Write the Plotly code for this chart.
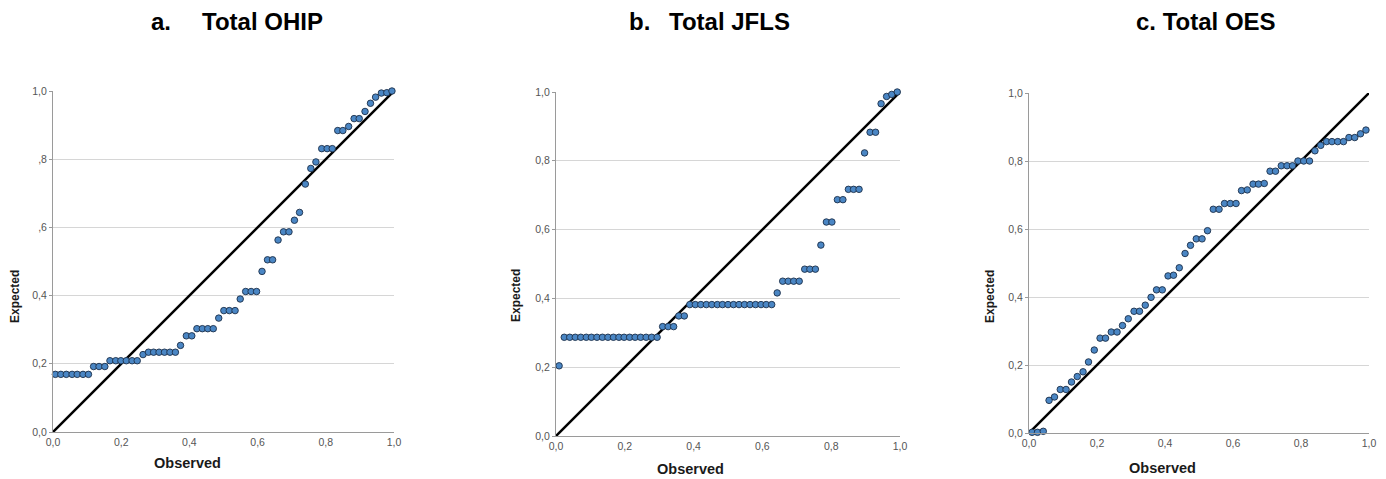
import plotly.graph_objects as go

# window is 1386x479; the page body adds an 8px margin, so the figure is
# made 8px smaller and all positions are given in window pixels minus 8.
WIN_W, WIN_H = 1386, 479
OFF = 8
W, H = WIN_W - OFF, WIN_H - OFF

# ---------------- data ----------------
ohip_obs = [0.007, 0.023, 0.039, 0.056, 0.071, 0.088, 0.104, 0.119, 0.135, 0.152,
            0.167, 0.184, 0.199, 0.215, 0.232, 0.247, 0.264, 0.280, 0.295, 0.311,
            0.327, 0.343, 0.359, 0.374, 0.391, 0.407, 0.422, 0.438, 0.454, 0.470,
            0.486, 0.501, 0.517, 0.534, 0.549, 0.565, 0.581, 0.597, 0.613, 0.629,
            0.644, 0.660, 0.676, 0.692, 0.708, 0.723, 0.740, 0.756, 0.771, 0.788,
            0.804, 0.819, 0.835, 0.850, 0.867, 0.883, 0.898, 0.915, 0.931, 0.946,
            0.963, 0.979, 0.994]
ohip_exp = [0.169, 0.169, 0.169, 0.169, 0.169, 0.169, 0.169, 0.192, 0.192, 0.192,
            0.209, 0.209, 0.209, 0.209, 0.209, 0.209, 0.227, 0.234, 0.234, 0.234,
            0.234, 0.234, 0.234, 0.254, 0.282, 0.282, 0.303, 0.303, 0.303, 0.303,
            0.334, 0.356, 0.356, 0.356, 0.390, 0.412, 0.412, 0.412, 0.471, 0.505,
            0.505, 0.563, 0.587, 0.587, 0.621, 0.644, 0.727, 0.773, 0.792, 0.831,
            0.831, 0.831, 0.884, 0.884, 0.896, 0.919, 0.919, 0.940, 0.964, 0.982,
            0.994, 0.995, 1.000]

jfls_obs = [0.009, 0.024, 0.040, 0.056, 0.072, 0.088, 0.103, 0.119, 0.135, 0.151,
            0.167, 0.183, 0.198, 0.214, 0.230, 0.246, 0.262, 0.278, 0.294, 0.310,
            0.326, 0.342, 0.357, 0.373, 0.389, 0.405, 0.421, 0.437, 0.453, 0.469,
            0.484, 0.500, 0.516, 0.532, 0.548, 0.564, 0.580, 0.596, 0.611, 0.627,
            0.643, 0.659, 0.675, 0.691, 0.707, 0.723, 0.738, 0.754, 0.770, 0.786,
            0.802, 0.818, 0.834, 0.850, 0.865, 0.881, 0.897, 0.913, 0.929, 0.945,
            0.961, 0.976, 0.992]
jfls_exp = [0.204, 0.287, 0.287, 0.287, 0.287, 0.287, 0.287, 0.287, 0.287, 0.287,
            0.287, 0.287, 0.287, 0.287, 0.287, 0.287, 0.287, 0.287, 0.287, 0.318,
            0.318, 0.318, 0.349, 0.349, 0.382, 0.382, 0.382, 0.382, 0.382, 0.382,
            0.382, 0.382, 0.382, 0.382, 0.382, 0.382, 0.382, 0.382, 0.382, 0.382,
            0.416, 0.450, 0.450, 0.450, 0.450, 0.485, 0.485, 0.485, 0.555, 0.622,
            0.622, 0.687, 0.687, 0.717, 0.717, 0.717, 0.823, 0.883, 0.883, 0.966,
            0.987, 0.993, 1.000]

oes_obs = [0.009, 0.025, 0.042, 0.059, 0.075, 0.092, 0.109, 0.125, 0.142, 0.159,
           0.175, 0.192, 0.209, 0.225, 0.242, 0.259, 0.275, 0.292, 0.309, 0.325,
           0.342, 0.359, 0.375, 0.392, 0.409, 0.425, 0.442, 0.459, 0.475, 0.492,
           0.509, 0.525, 0.542, 0.559, 0.575, 0.592, 0.609, 0.625, 0.642, 0.659,
           0.675, 0.692, 0.709, 0.725, 0.742, 0.759, 0.775, 0.791, 0.808, 0.825,
           0.841, 0.858, 0.875, 0.891, 0.908, 0.925, 0.941, 0.958, 0.975, 0.991]
oes_exp = [0.002, 0.002, 0.005, 0.096, 0.106, 0.128, 0.128, 0.150, 0.166, 0.180,
           0.209, 0.244, 0.279, 0.279, 0.297, 0.297, 0.316, 0.336, 0.358, 0.358,
           0.376, 0.399, 0.421, 0.421, 0.462, 0.464, 0.486, 0.528, 0.552, 0.571,
           0.571, 0.595, 0.658, 0.658, 0.675, 0.675, 0.675, 0.713, 0.715, 0.732,
           0.732, 0.734, 0.770, 0.770, 0.786, 0.786, 0.786, 0.800, 0.800, 0.800,
           0.830, 0.846, 0.857, 0.857, 0.857, 0.857, 0.869, 0.869, 0.880, 0.891]

diag = [0.0, 1.0]
tick_vals = [0.0, 0.2, 0.4, 0.6, 0.8, 1.0]
x_tick_text = ["0,0", "0,2", "0,4", "0,6", "0,8", "1,0"]
y_tick_text_a = ["0,0", "0,2", "0,4", ",6", ",8", "1,0"]
y_tick_text_bc = ["0,0", "0,2", "0,4", "0,6", "0,8", "1,0"]

panels = [
    dict(obs=ohip_obs, exp=ohip_exp, yt=y_tick_text_a,
         box=(53, 394, 91, 432)),
    dict(obs=jfls_obs, exp=jfls_exp, yt=y_tick_text_bc,
         box=(556, 900, 92, 436)),
    dict(obs=oes_obs, exp=oes_exp, yt=y_tick_text_bc,
         box=(1029, 1369, 93, 433)),
]

FONT = "Arial, Liberation Sans, Helvetica, sans-serif"
MARKER_FILL = "#4a86c4"
MARKER_EDGE = "#1c2f48"


def px(x):
    return (x - OFF) / W


def py(y):
    return 1 - (y - OFF) / H


fig = go.Figure()
layout = dict(
    width=W, height=H,
    margin=dict(l=0, r=0, t=0, b=0, autoexpand=False),
    paper_bgcolor="white", plot_bgcolor="white",
    showlegend=False,
    font=dict(family=FONT, color="#444444", size=10),
)

for i, p in enumerate(panels, start=1):
    sfx = "" if i == 1 else str(i)
    x0, x1, y0, y1 = p["box"]
    layout["xaxis" + sfx] = dict(
        domain=[px(x0), px(x1)], range=[0, 1], anchor="y" + sfx,
        automargin=False,
        tickvals=tick_vals, ticktext=x_tick_text,
        showgrid=False, zeroline=False,
        showline=True, linecolor="#9a9a9a", linewidth=1,
        ticks="", tickfont=dict(size=10.5, color="#555555", family=FONT),
        fixedrange=True,
    )
    layout["yaxis" + sfx] = dict(
        domain=[py(y1), py(y0)], range=[0, 1], anchor="x" + sfx,
        automargin=False,
        tickvals=tick_vals, ticktext=p["yt"],
        showgrid=True, gridcolor="#d6d6d6", gridwidth=1,
        zeroline=False,
        showline=True, linecolor="#9a9a9a", linewidth=1,
        ticks="outside", ticklen=3, tickcolor="#9a9a9a",
        tickfont=dict(size=10.5, color="#555555", family=FONT),
        fixedrange=True,
    )
    fig.add_trace(go.Scatter(
        x=diag, y=diag, mode="lines",
        line=dict(color="black", width=2.5),
        xaxis="x" + sfx, yaxis="y" + sfx, hoverinfo="skip",
    ))
    fig.add_trace(go.Scatter(
        x=p["obs"], y=p["exp"], mode="markers",
        marker=dict(size=6.5, color=MARKER_FILL,
                    line=dict(color=MARKER_EDGE, width=0.9)),
        cliponaxis=False,
        xaxis="x" + sfx, yaxis="y" + sfx,
    ))

fig.update_layout(**layout)

title_font = dict(family=FONT, size=24, color="black")
annotations = [
    dict(text="<b>a.</b>", x=px(149), y=py(22), xanchor="left"),
    dict(text="<b>Total OHIP</b>", x=px(200), y=py(22), xanchor="left"),
    dict(text="<b>b.</b>", x=px(627), y=py(22), xanchor="left"),
    dict(text="<b>Total JFLS</b>", x=px(667), y=py(22), xanchor="left"),
    dict(text="<b>c. Total OES</b>", x=px(1134), y=py(22), xanchor="left"),
]
for a in annotations:
    fig.add_annotation(xref="paper", yref="paper", yanchor="middle",
                       showarrow=False, font=title_font, **a)

axis_titles = [
    ("Expected", 15, 297, -90, 12),
    ("Expected", 516, 296, -90, 12),
    ("Expected", 990, 297, -90, 12),
    ("Observed", 187, 463, 0, 14.5),
    ("Observed", 690, 469, 0, 14.5),
    ("Observed", 1162, 468, 0, 14.5),
]
for t, x, y, ang, sz in axis_titles:
    fig.add_annotation(xref="paper", yref="paper", x=px(x), y=py(y),
                       xanchor="center", yanchor="middle", textangle=ang,
                       text="<b>" + t + "</b>", showarrow=False,
                       font=dict(family=FONT, size=sz, color="#1a1a1a"))

fig.write_html("out.html")
